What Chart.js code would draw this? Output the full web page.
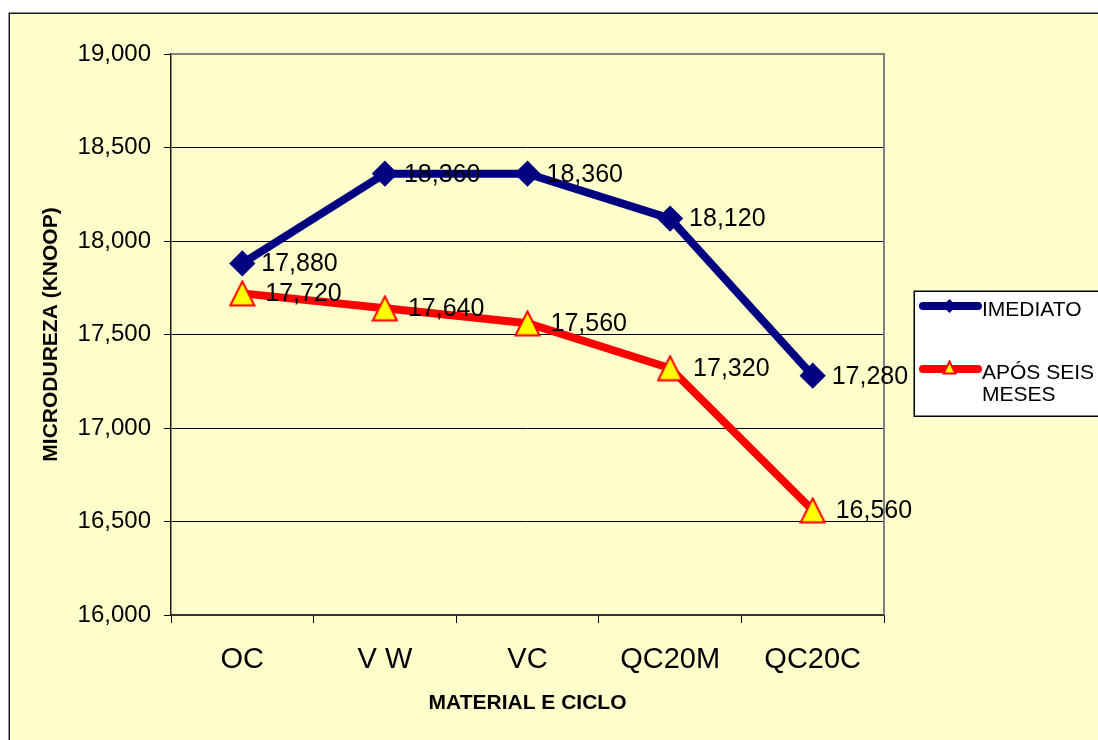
<!DOCTYPE html>
<html>
<head>
<meta charset="utf-8">
<title>Microdureza (Knoop)</title>
<script src="https://cdn.jsdelivr.net/npm/chart.js@4/dist/chart.umd.min.js"></script>
<style>
  html, body { margin: 0; padding: 0; background: #ffffff; }
  #chart { display: block; }
</style>
</head>
<body>
<canvas id="chart" width="1098" height="740"></canvas>
<script>
// Categories (material and cycle) and measured hardness values
const categories = ['OC', 'V W', 'VC', 'QC20M', 'QC20C'];
const imediato = [17880, 18360, 18360, 18120, 17280];
const aposSeisMeses = [17720, 17640, 17560, 17320, 16560];
const yTickValues = [16000, 16500, 17000, 17500, 18000, 18500, 19000];

const FONT = '"Liberation Sans", Arial, Helvetica, sans-serif';
const fmt = v => v.toLocaleString('en-US');

// Yellow triangle marker with red outline
function makeTriangle(w, h, lw) {
  const c = document.createElement('canvas');
  c.width = w; c.height = h;
  const g = c.getContext('2d');
  g.beginPath();
  g.moveTo(w / 2, lw / 2 + 0.5);
  g.lineTo(w - lw / 2 - 0.5, h - lw / 2 - 0.5);
  g.lineTo(lw / 2 + 0.5, h - lw / 2 - 0.5);
  g.closePath();
  g.fillStyle = '#ffff00';
  g.fill();
  g.lineWidth = lw;
  g.lineJoin = 'miter';
  g.strokeStyle = '#ff0000';
  g.stroke();
  return c;
}
const triBig = makeTriangle(27, 27, 2);
const triSmall = makeTriangle(15, 15, 2);

// Page background, frame and plot border
const backdrop = {
  id: 'backdrop',
  beforeDraw(chart) {
    const ctx = chart.ctx;
    ctx.save();
    ctx.fillStyle = '#ffffff';
    ctx.fillRect(0, 0, chart.width, chart.height);
    ctx.fillStyle = '#ffffcc';
    ctx.fillRect(9, 13, chart.width - 9, chart.height - 13);
    ctx.strokeStyle = '#1a1a1a';
    ctx.lineWidth = 1.5;
    ctx.beginPath();
    ctx.moveTo(9.25, chart.height);
    ctx.lineTo(9.25, 13.25);
    ctx.lineTo(chart.width, 13.25);
    ctx.stroke();
    ctx.restore();
  },
  beforeDatasetsDraw(chart) {
    const {ctx, chartArea: a} = chart;
    ctx.save();
    ctx.strokeStyle = '#808080';
    ctx.lineWidth = 2;
    ctx.beginPath();
    ctx.moveTo(a.left, a.top);
    ctx.lineTo(a.right, a.top);
    ctx.lineTo(a.right, a.bottom);
    ctx.stroke();
    ctx.restore();
  }
};

// Value labels to the right of each marker
const valueLabels = {
  id: 'valueLabels',
  afterDatasetsDraw(chart) {
    const ctx = chart.ctx;
    ctx.save();
    ctx.font = '25px ' + FONT;
    ctx.fillStyle = '#000000';
    ctx.textAlign = 'left';
    ctx.textBaseline = 'middle';
    chart.data.datasets.forEach((ds, i) => {
      const meta = chart.getDatasetMeta(i);
      meta.data.forEach((pt, j) => {
        ctx.fillText(fmt(ds.data[j]), pt.x + ds.labelDx, pt.y + 1);
      });
    });
    ctx.restore();
  }
};

// Boxed legend on the right side
const boxLegend = {
  id: 'boxLegend',
  afterDraw(chart) {
    const ctx = chart.ctx;
    const bx = 914, by = 291, bw = 200, bh = 125;
    ctx.save();
    ctx.fillStyle = '#ffffff';
    ctx.fillRect(bx, by, bw, bh);
    ctx.strokeStyle = '#000000';
    ctx.lineWidth = 1.5;
    ctx.strokeRect(bx + 0.25, by + 0.25, bw, bh);

    const ds = chart.data.datasets;
    const rows = [
      {y: 306, lines: [ds[0].label]},
      {y: 369, lines: ds[1].legendLines}
    ];
    rows.forEach((r, i) => {
      const d = ds[i];
      ctx.strokeStyle = d.borderColor;
      ctx.lineWidth = 8;
      ctx.lineCap = 'round';
      ctx.beginPath();
      ctx.moveTo(923, r.y);
      ctx.lineTo(978, r.y);
      ctx.stroke();
      const cx = 949.5;
      if (i === 0) {
        ctx.fillStyle = d.pointBackgroundColor;
        ctx.beginPath();
        ctx.moveTo(cx, r.y - 7);
        ctx.lineTo(cx + 7, r.y);
        ctx.lineTo(cx, r.y + 7);
        ctx.lineTo(cx - 7, r.y);
        ctx.closePath();
        ctx.fill();
      } else {
        ctx.drawImage(triSmall, cx - 7.5, r.y - 9);
      }
      ctx.fillStyle = '#000000';
      ctx.font = '21px ' + FONT;
      ctx.textAlign = 'left';
      ctx.textBaseline = 'middle';
      r.lines.forEach((t, k) => ctx.fillText(t, 982, r.y + 4 + k * 22));
    });
    ctx.restore();
  }
};

new Chart(document.getElementById('chart'), {
  type: 'line',
  data: {
    labels: categories,
    datasets: [
      {
        label: 'IMEDIATO',
        data: imediato,
        borderColor: '#000080',
        backgroundColor: '#000080',
        borderWidth: 8,
        pointStyle: 'rectRot',
        pointRadius: 11,
        pointBorderWidth: 3,
        pointBackgroundColor: '#000080',
        pointBorderColor: '#000080',
        tension: 0,
        labelDx: 19
      },
      {
        label: 'APÓS SEIS MESES',
        legendLines: ['APÓS SEIS', 'MESES'],
        data: aposSeisMeses,
        borderColor: '#ff0000',
        backgroundColor: '#ff0000',
        borderWidth: 8,
        pointStyle: triBig,
        pointRadius: 13,
        tension: 0,
        labelDx: 23
      }
    ]
  },
  options: {
    responsive: false,
    animation: false,
    devicePixelRatio: 1,
    events: [],
    layout: { padding: { left: 0, top: 54, right: 214, bottom: 0 } },
    plugins: {
      legend: { display: false },
      tooltip: { enabled: false },
      title: { display: false }
    },
    scales: {
      x: {
        type: 'category',
        offset: true,
        afterFit(s) { s.height = 125; },
        grid: {
          offset: true,
          drawOnChartArea: false,
          drawTicks: true,
          tickLength: 8,
          tickColor: '#000000',
          tickWidth: 1
        },
        border: { display: true, color: '#333333', width: 2 },
        ticks: {
          color: '#000000',
          font: { family: FONT, size: 29 },
          padding: 20,
          maxRotation: 0,
          autoSkip: false
        },
        title: {
          display: true,
          text: 'MATERIAL E CICLO',
          color: '#000000',
          font: { family: FONT, size: 21, weight: 'bold' },
          padding: { top: 0, bottom: 24 }
        }
      },
      y: {
        min: 16000,
        max: 19000,
        afterFit(s) { s.width = 171; },
        afterBuildTicks(s) { s.ticks = yTickValues.map(v => ({ value: v })); },
        grid: {
          color: c => (c.tick && c.tick.value === 19000) ? 'rgba(0,0,0,0)' : '#000000',
          lineWidth: 1,
          tickLength: 7,
          tickColor: '#000000',
          tickWidth: 1
        },
        border: { display: true, color: '#1a1a1a', width: 1.5 },
        ticks: {
          color: '#000000',
          font: { family: FONT, size: 24 },
          padding: 13,
          callback: v => fmt(v)
        },
        title: {
          display: true,
          text: 'MICRODUREZA (KNOOP)',
          color: '#000000',
          font: { family: FONT, size: 21, weight: 'bold' },
          padding: { top: 39, bottom: 0 }
        }
      }
    }
  },
  plugins: [backdrop, valueLabels, boxLegend]
});
</script>
</body>
</html>
